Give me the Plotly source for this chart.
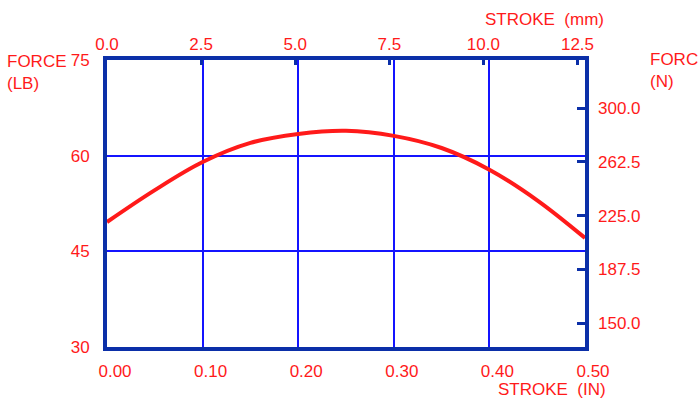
import plotly.graph_objects as go

# force vs stroke
stroke_in = [0.00, 0.05, 0.10, 0.15, 0.20, 0.25, 0.30, 0.35, 0.40, 0.45, 0.50]
force_lb = [49.6, 54.6, 59.0, 62.0, 63.4, 63.9, 63.1, 61.2, 57.8, 53.0, 47.1]

in_ticks = [0.0, 0.1, 0.2, 0.3, 0.4, 0.5]
in_labels = ["0.00", "0.10", "0.20", "0.30", "0.40", "0.50"]
mm_ticks = [0.0, 2.5, 5.0, 7.5, 10.0, 12.5]
mm_labels = ["0.0", "2.5", "5.0", "7.5", "10.0", "12.5"]
lb_ticks = [30, 45, 60, 75]
n_ticks = [150.0, 187.5, 225.0, 262.5, 300.0]
n_labels = ["150.0", "187.5", "225.0", "262.5", "300.0"]

LB_TO_N = 4.448
IN_TO_MM = 25.4

RED = "#ff1a1a"
FRAME = "#0b2fa8"
GRID = "#1414ff"
FONT = dict(family="Liberation Sans, Arial, sans-serif", size=17, color=RED)

W, H = 698, 409
L, R, T, B = 107, 585.5, 60, 347


def px(x):
    return (x - L) / (R - L)


def py(y):
    return (B - y) / (B - T)


fig = go.Figure()
fig.add_trace(go.Scatter(
    x=stroke_in, y=force_lb, mode="lines",
    line=dict(color=RED, width=4, shape="spline", smoothing=1.0),
    hoverinfo="skip", showlegend=False))
# invisible traces so the secondary axes get drawn
fig.add_trace(go.Scatter(x=[0, 12.7], y=[None, None], xaxis="x2", yaxis="y",
                         showlegend=False, hoverinfo="skip"))
fig.add_trace(go.Scatter(x=[0, 0.5], y=[None, None], xaxis="x", yaxis="y2",
                         showlegend=False, hoverinfo="skip"))

fig.update_layout(
    width=W, height=H,
    margin=dict(l=L, r=W - R, t=T, b=H - B, pad=0),
    paper_bgcolor="white", plot_bgcolor="white",
    font=FONT,
    xaxis=dict(range=[0, 0.5], tickvals=in_ticks, ticktext=in_labels,
               showgrid=True, gridcolor=GRID, gridwidth=2,
               showline=True, linecolor=FRAME, linewidth=4, mirror=True,
               ticks="", ticklabelstandoff=6, ticklabelshift=8,
               zeroline=False, tickfont=FONT),
    xaxis2=dict(range=[0, 0.5 * IN_TO_MM], overlaying="x", side="top",
                tickvals=mm_ticks, ticktext=mm_labels, showgrid=False,
                ticks="inside", ticklen=5, tickwidth=3, tickcolor=FRAME,
                ticklabelstandoff=6, zeroline=False, tickfont=FONT),
    yaxis=dict(range=[30, 75], tickvals=lb_ticks,
               showgrid=True, gridcolor=GRID, gridwidth=2,
               showline=True, linecolor=FRAME, linewidth=4, mirror=True,
               ticks="", ticklabelstandoff=10, zeroline=False, tickfont=FONT),
    yaxis2=dict(range=[30 * LB_TO_N, 75 * LB_TO_N], overlaying="y", side="right",
                tickvals=n_ticks, ticktext=n_labels, showgrid=False,
                ticks="inside", ticklen=8, tickwidth=3, tickcolor=FRAME,
                ticklabelstandoff=12, zeroline=False, tickfont=FONT),
)

annots = [
    dict(text="FORCE<br>(LB)", x=px(5), y=py(50), xanchor="left", yanchor="top", align="left"),
    dict(text="FORCE<br>(N)", x=px(649), y=py(48), xanchor="left", yanchor="top", align="left"),
    dict(text="STROKE  (mm)", x=px(483), y=py(19), xanchor="left", yanchor="middle"),
    dict(text="STROKE  (IN)", x=px(496), y=py(390), xanchor="left", yanchor="middle"),
    dict(text="CONTINUOUS FORCE", x=px(250), y=py(407), xanchor="left", yanchor="top",
         font=dict(family=FONT["family"], size=17, color="#ff9090")),
]
for a in annots:
    a.update(xref="paper", yref="paper", showarrow=False)
    a.setdefault("font", FONT)
    fig.add_annotation(**a)

# drop the page's default body margin so the figure sits at the window corner
fig.write_html("out.html", config={"displayModeBar": False},
               post_script="document.body.style.margin='0';")
